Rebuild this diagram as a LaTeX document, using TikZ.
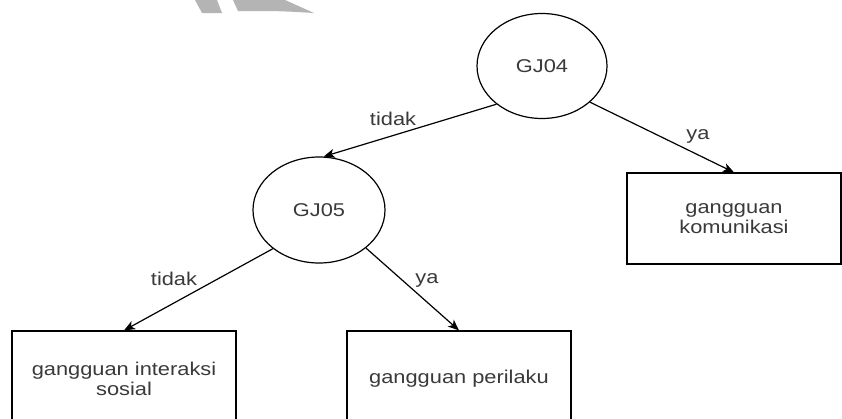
\documentclass[tikz,border=0pt]{standalone}
\usepackage{fontspec}
\setmainfont{Liberation Sans}[FakeStretch=1.18]
\usetikzlibrary{shapes.geometric,arrows.meta}
\definecolor{txt}{HTML}{3A3A3A}
\definecolor{wm}{HTML}{B4B4B4}
\begin{document}
\begin{tikzpicture}[x=1pt,y=-1pt,
  every node/.style={font=\fontsize{18.5}{20.5}\selectfont, text=txt},
  circ/.style={draw=black, line width=1.2pt, ellipse, minimum width=130pt, minimum height=105pt, inner sep=0pt},
  box/.style={draw=black, line width=1.2pt, rectangle, minimum width=224pt, minimum height=96pt, align=center, inner sep=0pt},
  conn/.style={draw=black, line width=1.2pt, -{Stealth[length=11pt,width=9pt,inset=3pt]}},
  lbl/.style={inner sep=0pt}
]
\useasboundingbox (0,0) rectangle (842,418);
\clip (0,0) rectangle (842,418);
\fill[white] (0,0) rectangle (842,418);
% watermark fragments
\fill[wm] (195,0) -- (217,0) -- (222,13) -- (202,13) -- cycle;
\fill[wm] (233,0) -- (285,0) -- (314,13) .. controls (280,11) .. (238,11) -- cycle;
% nodes
\node[circ] (gj04) at (542,66) {GJ04};
\node[circ, minimum width=132pt, minimum height=106pt] (gj05) at (319,210) {GJ05};
\node[box, minimum width=214pt, minimum height=91pt] (kom) at (734,218.5) {gangguan\\komunikasi};
\node[box] (inter) at (124,379) {gangguan interaksi\\sosial};
\node[box] (peri) at (459,379) {gangguan perilaku};
% connectors
\draw[conn] (gj04.220) -- (gj05.85);
\draw[conn] (gj04.-37) -- (kom.north);
\draw[conn] (gj05.220) -- (inter.north);
\draw[conn] (gj05.-39) -- (peri.north);
% labels
\node[lbl] (l1) at (393,118.5) {tidak};
\node[lbl] (l2) at (698,136) {ya};
\node[lbl] (l3) at (174,278.5) {tidak};
\node[lbl] (l4) at (427,280) {ya};
\end{tikzpicture}
\end{document}
